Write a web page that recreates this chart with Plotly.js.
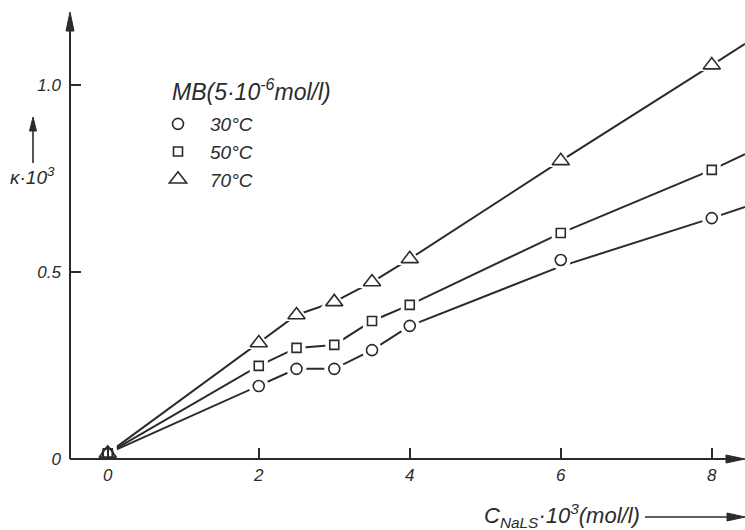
<!DOCTYPE html>
<html>
<head>
<meta charset="utf-8">
<script src="https://cdn.plot.ly/plotly-3.0.1.min.js"></script>
<style>html,body{margin:0;padding:0;background:#fff;}#chart{width:745px;height:530px;}</style>
</head>
<body>
<div id="chart"></div>
<script>
// Measured points (C_NaLS·10^3 in mol/l, kappa·10^3)
const conc = [0, 2, 2.5, 3, 3.5, 4, 6, 8];
const k30 = [0.015, 0.195, 0.241, 0.241, 0.291, 0.356, 0.532, 0.644];
const k50 = [0.015, 0.249, 0.297, 0.305, 0.369, 0.412, 0.604, 0.773];
const k70 = [0.015, 0.310, 0.385, 0.420, 0.473, 0.535, 0.797, 1.053];
// Drawn curves (extended to the right edge)
const curveX = [0, 2, 2.5, 3, 3.5, 4, 6, 8, 8.44];
const curve30 = [0.015, 0.195, 0.241, 0.241, 0.291, 0.356, 0.515, 0.644, 0.674];
const curve50 = [0.015, 0.249, 0.297, 0.305, 0.369, 0.412, 0.604, 0.773, 0.815];
const curve70 = [0.015, 0.310, 0.385, 0.420, 0.473, 0.535, 0.797, 1.053, 1.11];
const seriesNames = ['30°C', '50°C', '70°C'];
const legendTitle = 'MB(5·10<sup>-6</sup>mol/l)';
const xTicks = [0, 2, 4, 6, 8];
const xTickText = ['0', '2', '4', '6', '8'];
const yTicks = [0, 0.5, 1.0];
const yTickText = ['0', '0.5', '1.0'];

const ink = '#2b2b2b';
const fontFam = 'Liberation Sans, Arial, sans-serif';
const symbols = ['circle-open', 'square-open', 'triangle-up-open'];
const sizes = [11, 9, 15];
const vals = [k30, k50, k70];
const curves = [curve30, curve50, curve70];

const traces = [];
curves.forEach((c) => traces.push({
  x: curveX, y: c, mode: 'lines', type: 'scatter', showlegend: false, hoverinfo: 'skip',
  line: {color: ink, width: 2}, cliponaxis: false
}));
vals.forEach((v, i) => traces.push({
  x: conc, y: v, mode: 'markers', type: 'scatter', showlegend: false, hoverinfo: 'skip',
  marker: {symbol: symbols[i].replace('-open', ''), size: sizes[i] + 9, color: '#ffffff', line: {width: 0}},
  cliponaxis: false
}));
vals.forEach((v, i) => traces.push({
  x: conc, y: v, mode: 'markers', type: 'scatter', name: seriesNames[i], legendgroup: 'g' + i,
  marker: {symbol: symbols[i], size: sizes[i], color: ink, line: {width: 1.6, color: ink}},
  cliponaxis: false
}));

// helper: paper coords from pixel positions (plot area 675 x 447, origin at 70,459)
const PW = 675, PH = 447;
const px = (p) => (p - 70) / PW;
const py = (p) => (459 - p) / PH;
function head(tipX, tipY, baseX, baseY, half, vertical) {
  let pts;
  if (vertical) pts = [[tipX, tipY], [baseX - half, baseY], [baseX + half, baseY]];
  else pts = [[tipX, tipY], [baseX, baseY - half], [baseX, baseY + half]];
  return {type: 'path', xref: 'paper', yref: 'paper', fillcolor: ink, line: {color: ink, width: 1},
    path: 'M' + pts.map(p => px(p[0]) + ',' + py(p[1])).join(' L') + ' Z'};
}

const layout = {
  width: 745, height: 530,
  margin: {l: 70, r: 0, t: 12, b: 71},
  paper_bgcolor: '#ffffff', plot_bgcolor: '#ffffff',
  font: {family: fontFam, size: 15, color: ink, style: 'italic'},
  showlegend: true,
  legend: {
    x: px(146), y: py(105), xanchor: 'left', yanchor: 'top',
    bgcolor: 'rgba(0,0,0,0)', borderwidth: 0, tracegroupgap: 0,
    font: {family: fontFam, size: 19, color: ink, style: 'italic'},
    itemwidth: 54
  },
  xaxis: {
    range: [-0.5, 8.44], showgrid: false, zeroline: false,
    showline: false, ticks: 'inside', ticklen: 11, tickwidth: 1.5, tickcolor: ink,
    tickvals: xTicks, ticktext: xTickText, ticklabelstandoff: 4,
    tickfont: {family: fontFam, size: 17, color: ink, style: 'italic'}
  },
  yaxis: {
    range: [0, 1.195], showgrid: false, zeroline: false,
    showline: false, ticks: 'inside', ticklen: 11, tickwidth: 1.5, tickcolor: ink,
    tickvals: yTicks, ticktext: yTickText, ticklabelstandoff: 8,
    tickfont: {family: fontFam, size: 17, color: ink, style: 'italic'}
  },
  shapes: [
    {type: 'line', xref: 'paper', yref: 'paper', x0: 0, x1: 0, y0: 0, y1: py(28), line: {color: ink, width: 2}},
    {type: 'line', xref: 'paper', yref: 'paper', x0: 0, x1: px(728), y0: 0, y1: 0, line: {color: ink, width: 2}},
    head(70, 12, 70, 31, 4, true),
    head(745, 459, 726, 459, 4, false),
    // y label arrow
    {type: 'line', xref: 'paper', yref: 'paper', x0: px(33), x1: px(33), y0: py(163), y1: py(128), line: {color: ink, width: 1.6}},
    head(33, 117, 33, 131, 3.5, true),
    // x label arrow
    {type: 'line', xref: 'paper', yref: 'paper', x0: px(645), x1: px(730), y0: py(517), y1: py(517), line: {color: ink, width: 1.4}},
    head(745, 517, 727, 517, 4, false)
  ],
  annotations: [
    {xref: 'paper', yref: 'paper', x: px(170), y: py(90), xanchor: 'left', yanchor: 'middle', showarrow: false,
     text: legendTitle, font: {family: fontFam, size: 23, color: ink, style: 'italic'}},
    {xref: 'paper', yref: 'paper', x: px(32), y: py(176), xanchor: 'center', yanchor: 'middle', showarrow: false,
     text: 'κ·10<sup>3</sup>', font: {family: fontFam, size: 19, color: ink, style: 'italic'}},
    {xref: 'paper', yref: 'paper', x: px(642), y: py(515), xanchor: 'right', yanchor: 'middle', showarrow: false,
     text: 'C<sub>NaLS</sub>·10<sup>3</sup>(mol/l)', font: {family: fontFam, size: 22, color: ink, style: 'italic'}}
  ]
};

Plotly.newPlot('chart', traces, layout, {displayModeBar: false, staticPlot: true});
</script>
</body>
</html>
